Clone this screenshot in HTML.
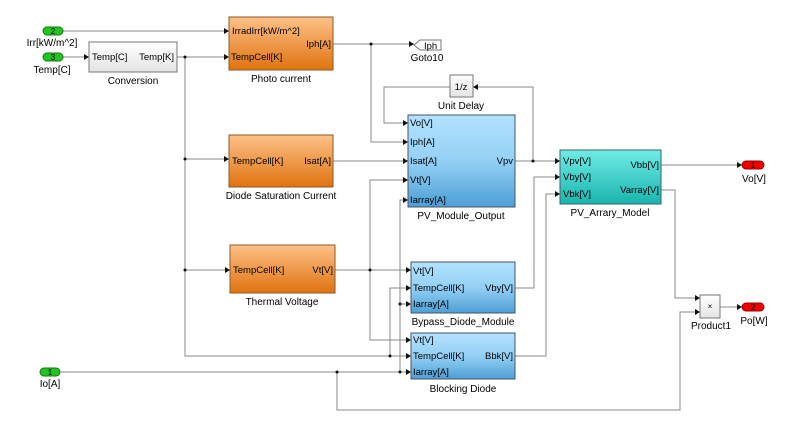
<!DOCTYPE html>
<html><head><style>
html,body{margin:0;padding:0;background:#fff;}
svg{display:block;font-family:"Liberation Sans",sans-serif;}
</style></head><body>
<svg width="800" height="427" viewBox="0 0 800 427" xmlns="http://www.w3.org/2000/svg">
<defs>
<linearGradient id="or" x1="0" y1="0" x2="0" y2="1"><stop offset="0" stop-color="#fdc188"/><stop offset="1" stop-color="#e0730f"/></linearGradient>
<linearGradient id="bl" x1="0" y1="0" x2="0" y2="1"><stop offset="0" stop-color="#b3e2ff"/><stop offset="0.5" stop-color="#94d0f5"/><stop offset="1" stop-color="#4d9fd6"/></linearGradient>
<linearGradient id="cy" x1="0" y1="0" x2="0" y2="1"><stop offset="0" stop-color="#70ece6"/><stop offset="1" stop-color="#1ab4ae"/></linearGradient>
<linearGradient id="gr" x1="0" y1="0" x2="0" y2="1"><stop offset="0" stop-color="#fff"/><stop offset="1" stop-color="#e4e4e4"/></linearGradient>
<marker id="a" markerWidth="6" markerHeight="6" refX="5" refY="3" orient="auto" markerUnits="userSpaceOnUse"><path d="M0,0 L5,3 L0,6z" fill="#111"/></marker>
</defs>
<g fill="none" stroke="#888" stroke-width="1" marker-end="url(#a)">
<path d="M62,31 H229"/>
<path d="M62,57 H89"/>
<path d="M177,57 H229"/>
<path d="M185,57 V159 H229"/>
<path d="M185,159 V270 H230"/>
<path d="M185,270 V356 H411"/>
<path d="M333,44 H414"/>
<path d="M371,44 V142 H408"/>
<path d="M333,161 H408"/>
<path d="M450,87 H384 V123 H408"/>
<path d="M515,161 H560"/>
<path d="M533,161 V87 H473"/>
<path d="M335,270 H411"/>
<path d="M370,270 V180 H408"/>
<path d="M370,270 V340 H411"/>
<path d="M390,356 V288 H411"/>
<path d="M61,372 H411"/>
<path d="M400,372 V200 H408"/>
<path d="M400,304 H411"/>
<path d="M337,372 V410 H680 V312 H700"/>
<path d="M515,288 H534 V177 H560"/>
<path d="M515,356 H546 V194 H560"/>
<path d="M661,165 H742"/>
<path d="M661,190 H675 V298 H700"/>
<path d="M720,307 H742"/>
</g>
<g fill="#111">
<circle cx="185" cy="57" r="1.5"/><circle cx="185" cy="159" r="1.5"/><circle cx="185" cy="270" r="1.5"/>
<circle cx="371" cy="44" r="1.5"/><circle cx="533" cy="161" r="1.5"/><circle cx="370" cy="270" r="1.5"/>
<circle cx="390" cy="356" r="1.5"/><circle cx="400" cy="372" r="1.5"/><circle cx="400" cy="304" r="1.5"/><circle cx="337" cy="372" r="1.5"/>
</g>
<g font-size="10" text-anchor="middle">
<rect x="43" y="27" width="20" height="8" rx="4" fill="#22c422" stroke="#117711"/><text x="53" y="34" font-size="8">2</text>
<text x="52" y="46">Irr[kW/m^2]</text>
<rect x="43" y="53" width="20" height="8" rx="4" fill="#22c422" stroke="#117711"/><text x="53" y="60" font-size="8">3</text>
<text x="52" y="73">Temp[C]</text>
<rect x="40" y="368" width="20" height="8" rx="4" fill="#22c422" stroke="#117711"/><text x="50" y="375" font-size="8">1</text>
<text x="50" y="387">Io[A]</text>
<rect x="742" y="161" width="22" height="8" rx="4" fill="#e00" stroke="#900"/><text x="753" y="168" font-size="8">1</text>
<text x="754" y="182">Vo[V]</text>
<rect x="742" y="303" width="22" height="8" rx="4" fill="#e00" stroke="#900"/><text x="753" y="310" font-size="8">2</text>
<text x="754" y="324">Po[W]</text>
</g>
<g font-size="9.5">
<rect x="89" y="42" width="88" height="30" fill="url(#gr)" stroke="#777"/>
<text x="92" y="60">Temp[C]</text><text x="174" y="60" text-anchor="end">Temp[K]</text>
<text x="133" y="84" text-anchor="middle" font-size="10">Conversion</text>

<rect x="229" y="17" width="104" height="53" fill="url(#or)" stroke="#8a5a2a"/>
<text x="232" y="34">IrradIrr[kW/m^2]</text><text x="231" y="60">TempCell[K]</text><text x="331" y="47" text-anchor="end">Iph[A]</text>
<text x="281" y="82" text-anchor="middle" font-size="10">Photo current</text>

<rect x="229" y="135" width="104" height="52" fill="url(#or)" stroke="#8a5a2a"/>
<text x="232" y="164">TempCell[K]</text><text x="331" y="164" text-anchor="end">Isat[A]</text>
<text x="281" y="199" text-anchor="middle" font-size="10">Diode Saturation Current</text>

<rect x="230" y="245" width="105" height="48" fill="url(#or)" stroke="#8a5a2a"/>
<text x="233" y="273">TempCell[K]</text><text x="333" y="273" text-anchor="end">Vt[V]</text>
<text x="282" y="305" text-anchor="middle" font-size="10">Thermal Voltage</text>

<path d="M414,45 L420,40 H441 V50 H420 Z" fill="#fff" stroke="#777"/><text x="424" y="49">Iph</text>
<text x="427" y="61" text-anchor="middle" font-size="10">Goto10</text>

<rect x="450" y="75" width="23" height="22" fill="url(#gr)" stroke="#777"/><text x="461" y="90" text-anchor="middle">1/z</text>
<text x="461" y="109" text-anchor="middle" font-size="10">Unit Delay</text>

<rect x="408" y="115" width="107" height="92" fill="url(#bl)" stroke="#456"/>
<text x="410" y="126">Vo[V]</text><text x="410" y="145">Iph[A]</text><text x="410" y="164">Isat[A]</text><text x="410" y="183">Vt[V]</text><text x="410" y="203">Iarray[A]</text>
<text x="513" y="164" text-anchor="end">Vpv</text>
<text x="461" y="219" text-anchor="middle" font-size="10">PV_Module_Output</text>

<rect x="560" y="150" width="101" height="54" fill="url(#cy)" stroke="#366"/>
<text x="563" y="164">Vpv[V]</text><text x="563" y="180">Vby[V]</text><text x="563" y="197">Vbk[V]</text>
<text x="659" y="168" text-anchor="end">Vbb[V]</text><text x="659" y="193" text-anchor="end">Varray[V]</text>
<text x="610" y="216" text-anchor="middle" font-size="10">PV_Arrary_Model</text>

<rect x="411" y="262" width="104" height="51" fill="url(#bl)" stroke="#456"/>
<text x="413" y="274">Vt[V]</text><text x="413" y="291">TempCell[K]</text><text x="413" y="307">Iarray[A]</text>
<text x="513" y="291" text-anchor="end">Vby[V]</text>
<text x="463" y="325" text-anchor="middle" font-size="10">Bypass_Diode_Module</text>

<rect x="411" y="333" width="104" height="46" fill="url(#bl)" stroke="#456"/>
<text x="413" y="343">Vt[V]</text><text x="413" y="359">TempCell[K]</text><text x="413" y="375">Iarray[A]</text>
<text x="513" y="359" text-anchor="end">Bbk[V]</text>
<text x="463" y="392" text-anchor="middle" font-size="10">Blocking Diode</text>

<rect x="700" y="295" width="20" height="23" fill="url(#gr)" stroke="#777"/><text x="710" y="309" text-anchor="middle" font-size="8">×</text>
<text x="711" y="329" text-anchor="middle" font-size="10">Product1</text>
</g>
</svg>
</body></html>
